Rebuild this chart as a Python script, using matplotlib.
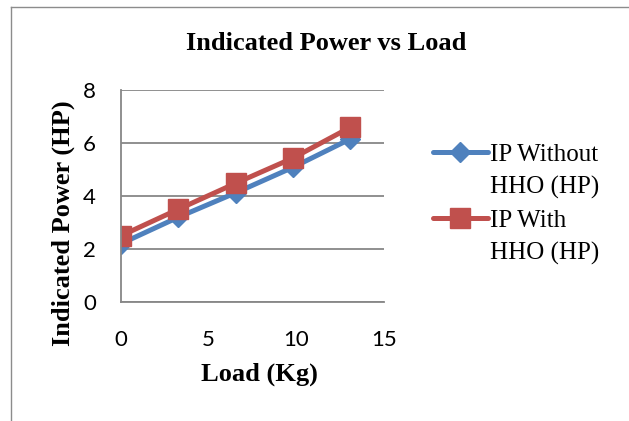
import matplotlib.pyplot as plt
from matplotlib.lines import Line2D

load = [0, 3.27, 6.54, 9.8, 13.07]
ip_without = [2.2, 3.2, 4.12, 5.08, 6.15]
ip_with = [2.5, 3.5, 4.48, 5.43, 6.59]

blue = '#4F81BD'
red = '#C0504D'
serif = 'Liberation Serif'
sans = 'Lato'

fig = plt.figure(figsize=(6.29, 4.21), dpi=100)
ax = fig.add_axes([0.1924, 0.2827, 0.4181, 0.5035])

l1, = ax.plot(load, ip_without, color=blue, lw=3.6, marker='D', ms=10,
              solid_capstyle='round')
l2, = ax.plot(load, ip_with, color=red, lw=3.6, marker='s', ms=14,
              solid_capstyle='round')

ax.set_xlim(0, 15)
ax.set_ylim(0, 8)
ax.set_xticks([0, 5, 10, 15])
ax.set_yticks([0, 2, 4, 6, 8])
ax.grid(axis='y', color='#878787', lw=1.3)
ax.set_axisbelow(True)
for s in ['top', 'right']:
    ax.spines[s].set_visible(False)
for s in ['left', 'bottom']:
    ax.spines[s].set_color('#878787')
    ax.spines[s].set_linewidth(1.3)
ax.tick_params(length=0, labelsize=16)
ax.tick_params(axis='y', pad=18)
ax.tick_params(axis='x', pad=20)
for lab in ax.get_xticklabels() + ax.get_yticklabels():
    lab.set_fontfamily(sans)

fig.text(0.518, 1 - 43 / 421, 'Indicated Power vs Load', fontfamily=serif,
         fontweight='bold', fontsize=19, ha='center', va='center')
ax.set_xlabel('Load (Kg)', fontfamily=serif, fontweight='bold', fontsize=19)
ax.set_ylabel('Indicated Power (HP)', fontfamily=serif, fontweight='bold', fontsize=19)
ax.xaxis.set_label_coords(0.525, -0.285)
ax.yaxis.set_label_coords(-0.176, 0.373)

blank = Line2D([], [], color='none')
handles = [l1, blank, l2, blank]
labels = ['IP Without', 'HHO (HP)', 'IP With', 'HHO (HP)']
fig.legend(handles, labels, loc='upper left', bbox_to_anchor=(0.652, 0.712), frameon=False,
           prop={'family': serif, 'size': 18}, handlelength=2.2,
           handletextpad=0.1, labelspacing=0.4)

# chart border (left and top edges visible)
fig.add_artist(Line2D([11 / 629, 11 / 629], [0, 1 - 7 / 421], color='#8c8c8c', lw=1))
fig.add_artist(Line2D([11 / 629, 1], [1 - 7 / 421, 1 - 7 / 421], color='#8c8c8c', lw=1))

fig.savefig('out.png', dpi=100)
